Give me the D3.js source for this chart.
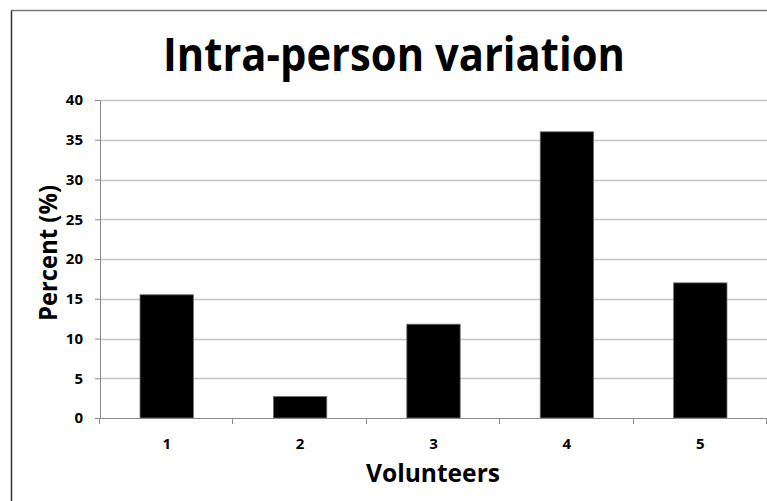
<!DOCTYPE html>
<html>
<head>
<meta charset="utf-8">
<script src="https://cdn.jsdelivr.net/npm/d3@7"></script>
<style>
    body { margin: 0; background: #fff; }
    svg { display: block; }
</style>
</head>
<body>
<div class="vis-barchart"></div>
<script>
// Data
const volunteers = ['1', '2', '3', '4', '5'];
const percents = [15.5, 2.7, 11.8, 36, 17];
const yTicks = [0, 5, 10, 15, 20, 25, 30, 35, 40];

const W = 767, H = 501;
const margin = { top: 100, right: 0, bottom: 83, left: 100 };
const width = W - margin.left - margin.right;
const height = H - margin.top - margin.bottom;
const font = "'Open Sans', 'DejaVu Sans', sans-serif";

const data = volunteers.map(function (v, i) { return { x: v, y: percents[i] }; });

let root = d3.select('.vis-barchart')
    .append('svg')
    .attr('width', W)
    .attr('height', H);

// frame (only left and top edges show in the picture)
root.append('line')
    .attr('x1', 11.5).attr('x2', 11.5)
    .attr('y1', 10.5).attr('y2', H)
    .attr('stroke', '#333').attr('stroke-width', 1.5);
root.append('line')
    .attr('x1', 11).attr('x2', W)
    .attr('y1', 10.5).attr('y2', 10.5)
    .attr('stroke', '#7a7a7a').attr('stroke-width', 1.5);

// Title
root.append('text')
    .attr('x', 394)
    .attr('y', 71)
    .attr('text-anchor', 'middle')
    .attr('font-family', font)
    .attr('font-weight', 'bold')
    .attr('font-size', '46px')
    .attr('textLength', 462)
    .attr('lengthAdjust', 'spacingAndGlyphs')
    .attr('fill', '#000')
    .text('Intra-person variation');

let svg = root.append('g')
    .attr('transform', 'translate(' + margin.left + ',' + margin.top + ')');

// X channel
let x = d3.scaleBand()
    .range([0, width])
    .domain(volunteers)
    .paddingInner(0.6)
    .paddingOuter(0.3);

let xBand = d3.scaleBand()
    .range([0, width])
    .domain(volunteers);

// Y channel
let y = d3.scaleLinear()
    .domain([0, 40])
    .range([height, 0]);

// gridlines
svg.append('g')
    .attr('class', 'grid')
    .selectAll('line')
    .data(yTicks.slice(1))
    .enter()
    .append('line')
    .attr('x1', 0)
    .attr('x2', width)
    .attr('y1', function (d) { return Math.round(y(d)) + 0.5; })
    .attr('y2', function (d) { return Math.round(y(d)) + 0.5; })
    .attr('stroke', '#c4c4c4')
    .attr('stroke-width', 1.5);

// Bars
svg.selectAll('.bar')
    .data(data)
    .enter()
    .append('rect')
    .attr('class', 'bar')
    .attr('x', function (d) { return x(d.x); })
    .attr('width', x.bandwidth())
    .attr('y', function (d) { return y(d.y); })
    .attr('height', function (d) { return height - y(d.y); })
    .attr('fill', '#000')
    .attr('stroke', '#6e6e6e')
    .attr('stroke-width', 0.8);

// Y axis
let yAxis = svg.append('g')
    .attr('class', 'y_axis')
    .call(d3.axisLeft(y).tickValues(yTicks).tickSize(5).tickPadding(12));
yAxis.select('.domain').attr('stroke', '#8a8a8a');
yAxis.selectAll('.tick line').attr('stroke', '#8a8a8a');
yAxis.selectAll('text')
    .attr('font-family', font)
    .attr('font-weight', 'bold')
    .attr('font-size', '15px')
    .attr('fill', '#000');

// X axis: ticks sit on band edges, labels at band centres
let edges = volunteers.map(function (v) { return xBand(v); }).concat([width]);
let xAxis = svg.append('g')
    .attr('class', 'x_axis')
    .attr('transform', 'translate(0,' + height + ')');
xAxis.append('line')
    .attr('x1', 0).attr('x2', width)
    .attr('y1', 0.5).attr('y2', 0.5)
    .attr('stroke', '#8a8a8a');
xAxis.selectAll('.edge')
    .data(edges)
    .enter()
    .append('line')
    .attr('class', 'edge')
    .attr('x1', function (d) { return Math.round(d) - 0.5; })
    .attr('x2', function (d) { return Math.round(d) - 0.5; })
    .attr('y1', 0)
    .attr('y2', 6)
    .attr('stroke', '#8a8a8a');
xAxis.selectAll('.lbl')
    .data(volunteers)
    .enter()
    .append('text')
    .attr('class', 'lbl')
    .attr('x', function (d) { return xBand(d) + xBand.bandwidth() / 2; })
    .attr('y', 31)
    .attr('text-anchor', 'middle')
    .attr('font-family', font)
    .attr('font-weight', 'bold')
    .attr('font-size', '15px')
    .text(function (d) { return d; });

// Axis titles
root.append('text')
    .attr('x', 433)
    .attr('y', 482)
    .attr('text-anchor', 'middle')
    .attr('font-family', font)
    .attr('font-weight', 'bold')
    .attr('font-size', '25px')
    .attr('textLength', 134)
    .attr('lengthAdjust', 'spacingAndGlyphs')
    .text('Volunteers');

root.append('text')
    .attr('transform', 'translate(57,253) rotate(-90)')
    .attr('text-anchor', 'middle')
    .attr('font-family', font)
    .attr('font-weight', 'bold')
    .attr('font-size', '25px')
    .attr('textLength', 136)
    .attr('lengthAdjust', 'spacingAndGlyphs')
    .text('Percent (%)');
</script>
</body>
</html>
